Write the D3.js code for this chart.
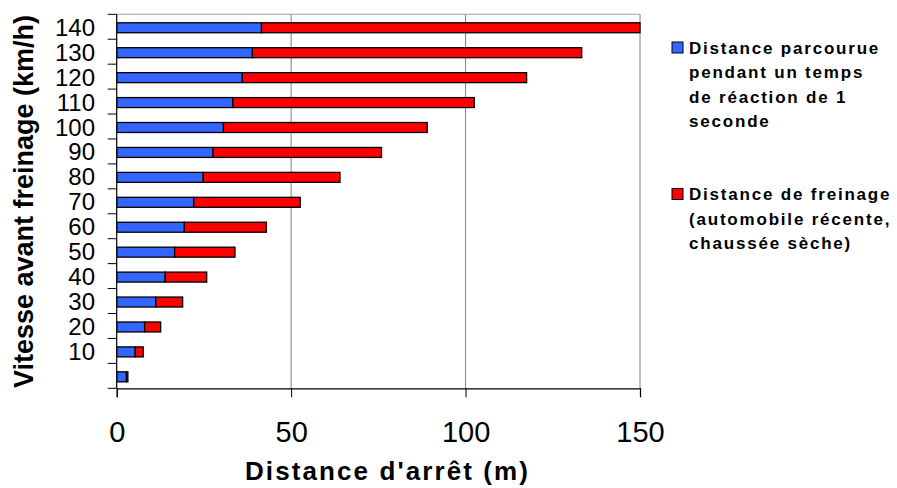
<!DOCTYPE html>
<html>
<head>
<meta charset="utf-8">
<script src="https://cdn.jsdelivr.net/npm/d3@7"></script>
<style>
  html, body { margin: 0; padding: 0; background: #fff; }
  svg { display: block; font-family: "Liberation Sans", Arial, sans-serif; }
</style>
</head>
<body>
<svg id="chart" width="897" height="488"></svg>
<script>
// Speed labels, top to bottom (the lowest bar carries no label)
const speedLabels = ["140", "130", "120", "110", "100", "90", "80", "70", "60", "50", "40", "30", "20", "10", ""];
// Distance covered during a 1 s reaction time (m)
const reactionDist = [41.5, 38.9, 36.0, 33.3, 30.6, 27.6, 24.8, 22.1, 19.4, 16.6, 13.9, 11.2, 8.0, 5.3, 2.8];
// Braking distance, recent car on dry road (m)
const brakingDist = [108.5, 94.4, 81.5, 69.2, 58.4, 48.3, 39.2, 30.5, 23.5, 17.3, 11.9, 7.7, 4.6, 2.3, 0.4];
const xTicks = [0, 50, 100, 150];
const seriesNames = [
  ["Distance parcourue", "pendant un temps", "de réaction de 1", "seconde"],
  ["Distance de freinage", "(automobile récente,", "chaussée sèche)"]
];
const seriesColors = ["#3366ff", "#ff0000"];

const svg = d3.select("#chart");
const plot = { left: 116.7, right: 640, top: 14.3, bottom: 388.3 };

const x = d3.scaleLinear().domain([0, 150]).range([plot.left, plot.right]);
const y = d3.scaleBand().domain(speedLabels.map((d, i) => i)).range([plot.top, plot.bottom]).paddingInner(0).paddingOuter(0);

const rows = speedLabels.map((label, i) => ({ i, label, reaction: reactionDist[i], braking: brakingDist[i] }));
const stacked = d3.stack().keys(["reaction", "braking"])(rows);

svg.append("defs").append("clipPath").attr("id", "plotClip")
  .append("rect")
  .attr("x", plot.left).attr("y", plot.top - 2)
  .attr("width", plot.right - plot.left + 1).attr("height", plot.bottom - plot.top + 4);

// vertical gridlines
svg.append("g").selectAll("line")
  .data(xTicks.filter(t => t > 0))
  .join("line")
  .attr("x1", d => x(d)).attr("x2", d => x(d))
  .attr("y1", plot.top).attr("y2", plot.bottom)
  .attr("stroke", "#808080").attr("stroke-width", 1);

// top border of the plot area
svg.append("line")
  .attr("x1", plot.left).attr("x2", plot.right)
  .attr("y1", plot.top).attr("y2", plot.top)
  .attr("stroke", "#a0a0a0").attr("stroke-width", 1);

// stacked bars
const bw = y.bandwidth();
svg.append("g").attr("clip-path", "url(#plotClip)")
  .selectAll("g")
  .data(stacked)
  .join("g")
  .attr("fill", (d, k) => seriesColors[k])
  .selectAll("rect")
  .data(d => d)
  .join("rect")
  .attr("x", d => x(d[0]))
  .attr("width", d => Math.max(0, x(d[1]) - x(d[0])))
  .attr("y", d => y(d.data.i) + bw * 0.34)
  .attr("height", bw * 0.40)
  .attr("stroke", "#000")
  .attr("stroke-width", 1.3);

// x axis
const xAxis = svg.append("g")
  .attr("transform", `translate(0,${plot.bottom})`)
  .call(d3.axisBottom(x).tickValues(xTicks).tickSize(9).tickPadding(25).tickFormat(d3.format("d")));
xAxis.select(".domain").attr("stroke", "#000").attr("stroke-width", 1.2);
xAxis.selectAll(".tick line").attr("stroke", "#000");
xAxis.selectAll(".tick text")
  .attr("font-size", 29).attr("fill", "#000")
  .attr("font-family", "Liberation Sans, Arial, sans-serif")
  .attr("dy", null).attr("y", 54);

// y axis: ticks at band boundaries, labels at band centres
const yAxis = svg.append("g");
yAxis.append("line")
  .attr("x1", plot.left).attr("x2", plot.left)
  .attr("y1", plot.top).attr("y2", plot.bottom)
  .attr("stroke", "#000").attr("stroke-width", 1.2);
const bounds = d3.range(speedLabels.length + 1).map(k => plot.top + k * bw);
yAxis.selectAll(".ytick")
  .data(bounds)
  .join("line")
  .attr("class", "ytick")
  .attr("x1", plot.left - 9).attr("x2", plot.left)
  .attr("y1", d => d).attr("y2", d => d)
  .attr("stroke", "#000").attr("stroke-width", 1);
yAxis.selectAll(".ylabel")
  .data(rows)
  .join("text")
  .attr("class", "ylabel")
  .attr("x", 95)
  .attr("y", d => y(d.i) + bw / 2 + 9)
  .attr("text-anchor", "end")
  .attr("font-size", 24)
  .text(d => d.label);

// axis titles
svg.append("text")
  .attr("transform", "translate(33,201.5) rotate(-90)")
  .attr("text-anchor", "middle")
  .attr("font-size", 27).attr("font-weight", "bold")
  .text("Vitesse avant freinage (km/h)");

svg.append("text")
  .attr("x", 245).attr("y", 480)
  .attr("font-size", 26).attr("font-weight", "bold")
  .attr("textLength", 283).attr("lengthAdjust", "spacing")
  .text("Distance d'arrêt (m)");

// legend
const legendTop = [47.5, 194];
const lineGap = 24.5;
const legend = svg.append("g");
seriesNames.forEach((lines, k) => {
  const cy = legendTop[k];
  legend.append("rect")
    .attr("x", 672).attr("y", cy - 5.5)
    .attr("width", 11).attr("height", 11)
    .attr("fill", seriesColors[k])
    .attr("stroke", "#000").attr("stroke-width", 1);
  const t = legend.append("text")
    .attr("font-size", 17).attr("font-weight", "bold")
    .attr("letter-spacing", 1.8);
  lines.forEach((ln, j) => {
    t.append("tspan").attr("x", 689).attr("y", cy + 6 + j * lineGap).text(ln);
  });
});
</script>
</body>
</html>
